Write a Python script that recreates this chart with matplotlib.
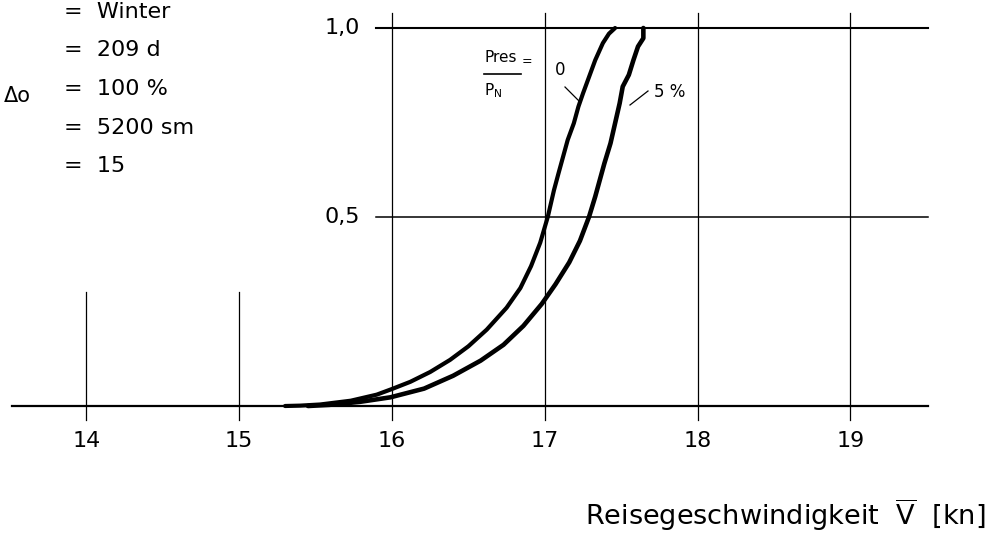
import numpy as np
import matplotlib
matplotlib.use("Agg")
import matplotlib.pyplot as plt

plt.rcParams['font.family'] = ['DejaVu Sans']
plt.rcParams['mathtext.fontset'] = 'dejavusans'

# curve for P_res/P_N = 0
v_0 = [15.30, 15.40, 15.53, 15.73, 15.90, 16.00, 16.12, 16.25, 16.38, 16.50, 16.62, 16.75, 16.84,
       16.91, 16.97, 17.02, 17.06, 17.09, 17.12, 17.15, 17.19, 17.22, 17.25, 17.29, 17.33, 17.38,
       17.42, 17.46]
p_0 = [0.0, 0.001, 0.004, 0.014, 0.030, 0.045, 0.064, 0.090, 0.122, 0.158, 0.202, 0.260, 0.312,
       0.370, 0.432, 0.501, 0.571, 0.616, 0.660, 0.704, 0.748, 0.792, 0.827, 0.871, 0.915, 0.960,
       0.985, 1.0]
# curve for P_res/P_N = 5 %
v_5 = [15.45, 15.59, 15.79, 15.99, 16.21, 16.40, 16.58, 16.73, 16.86, 16.98, 17.07, 17.16, 17.23,
       17.29, 17.33, 17.36, 17.39, 17.43, 17.46, 17.49, 17.51, 17.55, 17.58, 17.61, 17.645, 17.645]
p_5 = [0.0, 0.003, 0.011, 0.023, 0.046, 0.080, 0.120, 0.162, 0.212, 0.270, 0.322, 0.380, 0.437,
       0.501, 0.554, 0.598, 0.642, 0.695, 0.748, 0.801, 0.845, 0.876, 0.915, 0.951, 0.973, 1.0]

x_ticks = [14, 15, 16, 17, 18, 19]
y_ticks = [0.5, 1.0]
y_labels = ['0,5', '1,0']
params = ['=  Winter', '=  209 d', '=  100 %', '=  5200 sm', '=  15']

W, H = 989, 538
fig = plt.figure(figsize=(W / 100, H / 100), dpi=100)
ax = fig.add_axes([0, 0, 1, 1])

# pixel -> data mapping of the scanned drawing
x0_px, dx_px = 392, 152.8
y0_px, dy_px = 406, 378
ax.set_xlim(16 - x0_px / dx_px, 16 + (W - x0_px) / dx_px)
ax.set_ylim(-(H - y0_px) / dy_px, y0_px / dy_px)
ax.axis('off')

def fx(px):
    return 16 + (px - x0_px) / dx_px

def fy(py):
    return (y0_px - py) / dy_px

# grid lines
ax.plot([fx(12), fx(928)], [0, 0], color='black', lw=1.6)
for yv in y_ticks:
    ax.plot([fx(376), fx(928)], [yv, yv], color='black', lw=1.5 if yv == 1.0 else 1.1)
for xv in x_ticks:
    top = fy(292) if xv < 16 else fy(13)
    ax.plot([xv, xv], [top, fy(420)], color='black', lw=0.9)
    ax.text(xv, fy(441), str(xv), ha='center', va='center', fontsize=16)
for yv, lab in zip(y_ticks, y_labels):
    ax.text(fx(360), yv, lab, ha='right', va='center', fontsize=16)

# curves
ax.plot(v_0, p_0, color='black', lw=3, solid_capstyle='round', solid_joinstyle='round')
ax.plot(v_5, p_5, color='black', lw=3.3, solid_capstyle='round', solid_joinstyle='round')

# curve labels
ax.text(fx(484), fy(57), 'Pres', ha='left', va='center', fontsize=11)
ax.text(fx(522), fy(62), '=', ha='left', va='center', fontsize=9)
ax.plot([fx(484), fx(521)], [fy(74), fy(74)], color='black', lw=1.2)
ax.text(fx(484), fy(91), r'P$_\mathregular{N}$', ha='left', va='center', fontsize=11)
ax.text(fx(560), fy(70), '0', ha='center', va='center', fontsize=12)
ax.plot([fx(565), fx(580)], [fy(87), fy(102)], color='black', lw=0.9)
ax.text(fx(654), fy(92), '5 %', ha='left', va='center', fontsize=12)
ax.plot([fx(630), fx(648)], [fy(105), fy(91)], color='black', lw=0.9)

# parameter block
for i, s in enumerate(params):
    fig.text(64 / W, 1 - (12 + i * 38.5) / H, s, ha='left', va='center', fontsize=16)
fig.text(4 / W, 1 - 96 / H, '\u0394o', ha='left', va='center', fontsize=15)

ax.text(fx(985), fy(515), r'Reisegeschwindigkeit  $\overline{\mathrm{V}}$  [kn]',
        ha='right', va='center', fontsize=19.5)

fig.savefig('out.png', dpi=100)
